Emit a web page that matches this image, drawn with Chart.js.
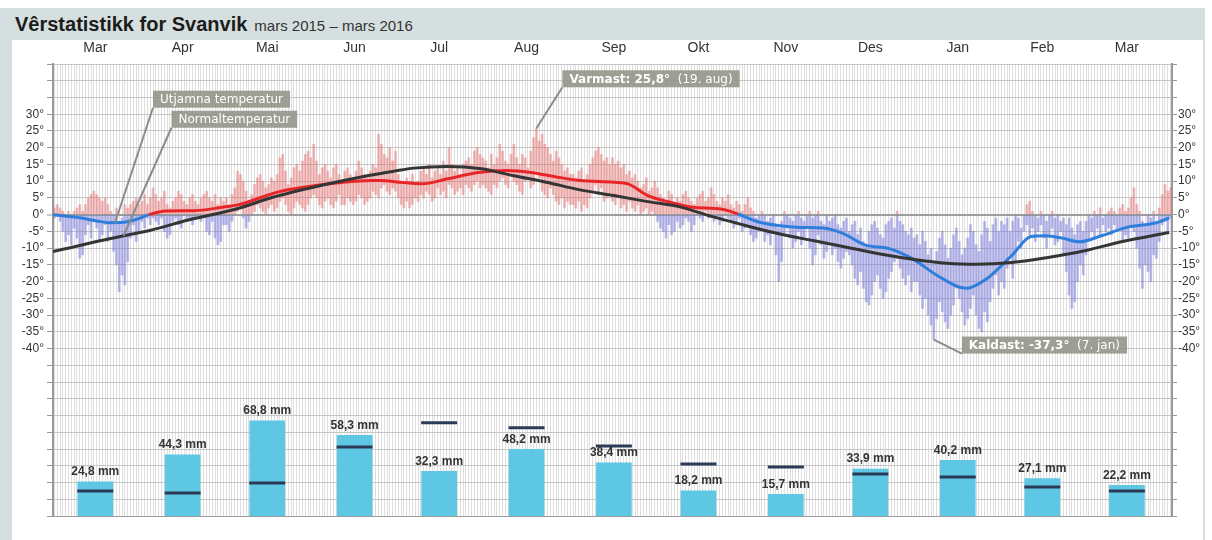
<!DOCTYPE html>
<html>
<head>
<meta charset="utf-8">
<title>Vêrstatistikk for Svanvik</title>
<script src="https://cdn.jsdelivr.net/npm/chart.js"></script>
<style>
    body { margin: 0; background: #fff; font-family: "Liberation Sans", Arial, sans-serif; }
    #frame { position: absolute; left: 0; top: 8px; width: 1205px; height: 532px; background: #d5dfdf; }
    #title { position: absolute; left: 15px; top: 8px; height: 32px; line-height: 32px; color: #1c1c1c; white-space: nowrap; }
    #title b { font-size: 20px; }
    #title span { font-size: 15px; margin-left: 7px; color: #333; }
    #panel { position: absolute; left: 12px; top: 40px; width: 1191px; height: 500px; background: #fff; }
    #chart-wrap { position: absolute; left: 0; top: 40px; width: 1212px; height: 500px; }
</style>
</head>
<body>
    <div id="frame"></div>
    <div id="title"><b>Vêrstatistikk for Svanvik</b><span>mars 2015 – mars 2016</span></div>
    <div id="panel"></div>
    <div id="chart-wrap"><canvas id="chart" width="1212" height="500"></canvas></div>

<script>
// Month labels on the top axis, and the day index (from 1. mars 2015) they sit on
const monthLabels = ['Mar', 'Apr', 'Mai', 'Jun', 'Jul', 'Aug', 'Sep', 'Okt', 'Nov', 'Des', 'Jan', 'Feb', 'Mar'];
const monthMid = [15, 46, 76, 107, 137, 168, 199, 229, 260, 290, 321, 351, 381];

// Monthly precipitation (mm) and normal precipitation
const precip = [24.8, 44.3, 68.8, 58.3, 32.3, 48.2, 38.4, 18.2, 15.7, 33.9, 40.2, 27.1, 22.2];
const precipNormal = [18.1, 16.7, 23.9, 50.0, 67.4, 63.8, 50.7, 37.7, 35.5, 30.4, 28.3, 21.0, 18.1];

// Daily max / min temperature, one array per month
const maxMar15 = [2, 3, 2, 1, 0, 1, -1, 1, 2, 3, 1, 3, 5, 6, 7, 6, 5, 4, 5, 3, 1, 0, 2, -2, -1, 3, 2, 3, 4, 5, 3];
const minMar15 = [-1, 0, -2, -5, -8, -6, -9, -4, -7, -13, -12, -6, -3, -7, -2, -4, -8, -6, -3, -8, -5, -11, -15, -23, -18, -21, -14, -7, -3, -8, -5];
const maxApr = [4, 6, 3, 5, 8, 6, 4, 5, 7, 3, 2, 4, 5, 7, 6, 4, 3, 5, 6, 4, 3, 5, 6, 7, 5, 4, 6, 3, 5, 4];
const minApr = [-2, -4, -1, -3, -1, -2, -3, -1, -5, -7, -6, -2, -1, -3, -4, 0, -2, -1, -3, -1, 0, -2, -1, -5, -6, -2, -7, -9, -8, -3];
const maxMay = [5, 3, 6, 8, 13, 12, 10, 7, 4, 6, 9, 11, 12, 10, 8, 9, 11, 10, 12, 17, 18, 13, 9, 11, 14, 15, 13, 16, 18, 19, 17];
const minMay = [-3, -5, -2, 0, 1, 2, -1, -4, -2, 0, 1, 3, 2, 1, 0, 2, 3, 1, 2, 4, 5, 3, 1, 0, 2, 4, 3, 2, 1, 3, 5];
const maxJun = [21, 16, 12, 14, 15, 13, 11, 14, 15, 12, 10, 13, 14, 12, 11, 13, 16, 14, 12, 11, 13, 15, 14, 24, 21, 18, 17, 20, 16, 19];
const minJun = [6, 5, 3, 2, 4, 5, 3, 2, 4, 6, 3, 3, 5, 4, 3, 4, 6, 5, 3, 4, 5, 7, 6, 5, 8, 9, 7, 6, 8, 7];
const maxJul = [12, 10, 9, 11, 10, 12, 9, 10, 13, 14, 12, 15, 11, 13, 14, 12, 16, 13, 20, 15, 13, 14, 12, 15, 16, 17, 15, 19, 20, 18, 17];
const minJul = [5, 3, 2, 4, 2, 3, 5, 4, 6, 5, 7, 6, 4, 5, 8, 6, 7, 5, 9, 8, 6, 7, 8, 6, 9, 8, 7, 9, 10, 8, 9];
const maxAug = [16, 14, 18, 15, 17, 21, 19, 16, 15, 18, 21, 17, 15, 18, 17, 14, 19, 23, 25.8, 22, 24, 21, 20, 18, 16, 19, 17, 15, 13, 14, 12];
const minAug = [8, 7, 6, 9, 8, 10, 11, 9, 8, 12, 10, 9, 7, 6, 10, 11, 8, 9, 13, 11, 7, 6, 5, 8, 6, 4, 3, 5, 2, 4, 3];
const maxSep = [12, 11, 13, 14, 10, 12, 15, 17, 19, 20, 18, 16, 17, 15, 17, 15, 16, 14, 15, 12, 13, 11, 12, 10, 8, 9, 11, 7, 8, 10];
const minSep = [3, 2, 4, 1, 3, 2, 5, 7, 9, 6, 8, 4, 5, 6, 4, 3, 5, 2, 3, 1, 4, 2, 1, 3, 0, 1, 2, 0, 1, 0];
const maxOct = [8, 6, 5, 4, 7, 6, 3, 5, 4, 6, 7, 5, 4, 3, 5, 6, 7, 4, 5, 8, 6, 4, 3, 5, 4, 6, 3, 2, 4, 3, 1];
const minOct = [-2, -4, -5, -7, -3, -6, -5, -2, -4, -3, -1, -2, -5, -3, 0, -1, -2, 1, -1, 0, -2, -1, -3, -2, 0, -1, -2, -4, -3, -1, -5];
const maxNov = [3, 5, 2, 1, -1, 0, 1, 0, -2, -1, 0, -3, -4, -2, 1, 0, -1, -2, 0, 1, -1, -2, 0, 1, -1, 0, 1, -2, -3, 0];
const minNov = [-4, -3, -6, -8, -7, -5, -4, -8, -6, -9, -5, -12, -20, -14, -6, -4, -7, -10, -8, -5, -9, -7, -4, -10, -15, -12, -6, -9, -13, -11];
const maxDec = [-2, -1, 0, -3, -4, -2, -1, -5, -3, -2, -6, -4, -8, -9, -5, -3, -2, -4, -6, -7, -3, -2, -1, -4, 1, -2, -3, -5, -6, -4, -7];
const minDec = [-8, -12, -10, -14, -16, -13, -11, -12, -15, -19, -21, -17, -22, -26, -27, -24, -20, -18, -22, -25, -23, -19, -17, -14, -13, -16, -19, -21, -18, -23, -20];
const maxJan = [-6, -9, -5, -8, -12, -10, -14, -11, -7, -5, -9, -13, -10, -6, -4, -8, -12, -10, -7, -3, -5, -9, -11, -6, -2, -4, -8, -3, -1, -5, -2];
const minJan = [-20, -24, -28, -25, -30, -33, -37.3, -31, -26, -29, -32, -34, -30, -27, -22, -25, -29, -33, -31, -28, -24, -30, -34, -35, -29, -32, -26, -22, -18, -24, -20];
const maxFeb = [-3, -1, -5, -2, 0, -1, -4, 0, 3, 4, 1, 0, -1, 1, 0, -2, 0, 1, -1, 0, -2, -1, -3, -1, -4, -6, -3, -2, -5];
const minFeb = [-22, -16, -12, -19, -14, -8, -10, -5, -3, -6, -4, -8, -5, -3, -7, -10, -6, -4, -9, -8, -5, -12, -17, -24, -28, -26, -20, -15, -18];
const maxMar16 = [-2, 0, -1, 1, 0, 2, -1, 0, 1, 2, 1, 0, 2, 3, 1, 2, 5, 8, 3, 1, -2, -3, 0, -1, 1, -2, 2, 6, 9, 7, 8];
const minMar16 = [-12, -8, -5, -7, -4, -6, -3, -5, -4, -6, -3, -5, -4, -8, -6, -7, -3, -5, -10, -16, -22, -15, -17, -20, -12, -13, -8, -3, -2, -5, -1];

// Smoothed temperature (utjamna) and normal temperature, read at day index
const smoothDays = [0, 5, 10, 15, 20, 25, 30, 34, 40, 50, 60, 66, 72, 80, 86, 92, 103, 113, 116, 123, 131, 140, 151, 161, 169, 179, 187, 199, 204, 211, 219, 227, 237, 243, 250, 258, 265, 273, 280, 288, 297, 305, 314, 324, 331, 340, 347, 352, 358, 364, 372, 381, 391, 396];
const smoothTemps = [0, -0.5, -1, -1.8, -2.4, -2.3, -1.3, 0, 1.1, 1.2, 2.2, 3, 4.6, 6.8, 7.8, 8.6, 9.7, 10.2, 10.2, 9.7, 9.2, 10.7, 12.6, 13.2, 12.7, 11.2, 10.2, 9.7, 9.2, 5.7, 3.7, 2.2, 1.7, 0.2, -2.1, -3.3, -3.8, -4, -5.5, -9, -10.2, -13.2, -18.3, -22, -19.3, -12.3, -6.5, -6.3, -7, -8.1, -6.3, -3.8, -2.5, -1];
const normalDays = [0, 25, 34, 48, 65, 78, 95, 112, 121, 128, 140, 152, 163, 175, 187, 199, 211, 222, 234, 246, 258, 270, 282, 294, 305, 317, 328, 340, 353, 366, 379, 396];
const normalTemps = [-11, -6.3, -4.8, -1.6, 1.7, 5.2, 8.7, 11.7, 13, 13.9, 14.4, 13.7, 11.7, 9.7, 7.4, 5.7, 3.9, 2.4, -0.6, -3.3, -5.8, -7.8, -9.8, -11.8, -13.3, -14.5, -14.8, -14.3, -12.8, -10.8, -8.1, -5.3];

// Labels pinned to the chart
const notes = [
    { day: 22, temp: -2.4, dx: 38, dy: -115, parts: [['Utjamna temperatur', false]] },
    { day: 25, temp: -6.3, dx: 48, dy: -108, parts: [['Normaltemperatur', false]] },
    { day: 171.5, temp: 25.8, dx: 26, dy: -41, parts: [['Varmast: 25,8°', true], ['  (19. aug)', false]] },
    { day: 312.5, temp: -37.3, dx: 28, dy: 14, parts: [['Kaldast: -37,3°', true], ['  (7. jan)', false]] }
];

const dayMax = [].concat(maxMar15, maxApr, maxMay, maxJun, maxJul, maxAug, maxSep, maxOct, maxNov, maxDec, maxJan, maxFeb, maxMar16);
const dayMin = [].concat(minMar15, minApr, minMay, minJun, minJul, minAug, minSep, minOct, minNov, minDec, minJan, minFeb, minMar16);

// Split each day's range into the part above and below zero
const warmBars = [];
const coldBars = [];
dayMax.forEach((hi, i) => {
    const lo = dayMin[i];
    if (hi > 0) warmBars.push({ x: i + 0.5, y: [Math.max(lo, 0), hi] });
    if (lo < 0) coldBars.push({ x: i + 0.5, y: [lo, Math.min(hi, 0)] });
});

const RED = '#e8262a';
const BLUE = '#2d7fdb';

// Draws mm labels over the precipitation bars and the note boxes
const overlay = {
    id: 'overlay',
    afterDatasetsDraw(chart) {
        const { ctx } = chart;
        const x = chart.scales.x, y = chart.scales.y, yP = chart.scales.yP;
        ctx.save();
        ctx.font = 'bold 12px "Liberation Sans", Arial';
        ctx.fillStyle = '#333';
        ctx.textAlign = 'center';
        ctx.textBaseline = 'bottom';
        precip.forEach((v, i) => {
            ctx.fillText(v.toFixed(1).replace('.', ',') + ' mm', x.getPixelForValue(monthMid[i]), yP.getPixelForValue(v) - 4);
        });

        notes.forEach(n => {
            const ax = x.getPixelForValue(n.day);
            const ay = y.getPixelForValue(n.temp);
            const left = ax + n.dx;
            const bottom = ay + n.dy;
            const h = 17;
            let w = 14;
            n.parts.forEach(p => {
                ctx.font = (p[1] ? 'bold ' : '') + '12px "DejaVu Sans"';
                w += ctx.measureText(p[0]).width;
            });
            // leader line
            ctx.strokeStyle = '#8c8c8c';
            ctx.lineWidth = 2;
            ctx.beginPath();
            ctx.moveTo(ax, ay);
            ctx.lineTo(left, bottom);
            ctx.stroke();
            // box
            ctx.fillStyle = 'rgba(150, 149, 137, 0.9)';
            ctx.fillRect(left, bottom - h, w, h);
            ctx.fillStyle = '#fff';
            ctx.textAlign = 'left';
            ctx.textBaseline = 'middle';
            let tx = left + 7;
            n.parts.forEach(p => {
                ctx.font = (p[1] ? 'bold ' : '') + '12px "DejaVu Sans"';
                ctx.fillText(p[0], tx, bottom - h / 2 + 1);
                tx += ctx.measureText(p[0]).width;
            });
        });
        ctx.restore();
    }
};

const tempLabel = v => (v <= 30 && v >= -40) ? v + '°' : '';
const tickFont = { size: 12, family: '"Liberation Sans", Arial' };

new Chart(document.getElementById('chart'), {
    type: 'bar',
    data: {
        datasets: [
            {
                type: 'line',
                data: normalDays.map((d, i) => ({ x: d, y: normalTemps[i] })),
                borderColor: '#353535',
                borderWidth: 3,
                pointRadius: 0,
                cubicInterpolationMode: 'monotone',
                yAxisID: 'y',
                order: 0
            },
            {
                type: 'line',
                data: smoothDays.map((d, i) => ({ x: d, y: smoothTemps[i] })),
                borderColor: RED,
                borderWidth: 3,
                pointRadius: 0,
                cubicInterpolationMode: 'monotone',
                segment: {
                    borderColor: c => (c.p0.parsed.y + c.p1.parsed.y) / 2 < 0 ? BLUE : RED
                },
                yAxisID: 'y',
                order: 1
            },
            {
                type: 'line',
                data: precipNormal.map((v, i) => ({ x: monthMid[i], y: v })),
                showLine: false,
                pointStyle: 'line',
                pointRadius: 18,
                pointBorderWidth: 3,
                pointBorderColor: '#2b3a57',
                borderColor: '#2b3a57',
                yAxisID: 'yP',
                order: 2
            },
            {
                data: precip.map((v, i) => ({ x: monthMid[i], y: v })),
                backgroundColor: '#5ec7e3',
                barThickness: 35,
                grouped: false,
                yAxisID: 'yP',
                order: 3
            },
            {
                data: warmBars,
                backgroundColor: 'rgba(228, 100, 100, 0.45)',
                barThickness: 2,
                grouped: false,
                yAxisID: 'y',
                order: 4
            },
            {
                data: coldBars,
                backgroundColor: 'rgba(115, 115, 215, 0.5)',
                barThickness: 2,
                grouped: false,
                yAxisID: 'y',
                order: 5
            }
        ]
    },
    options: {
        responsive: false,
        animation: false,
        devicePixelRatio: 1,
        events: [],
        layout: { padding: { left: 0, right: 0, top: 0, bottom: 24 } },
        plugins: {
            legend: { display: false },
            tooltip: { enabled: false }
        },
        scales: {
            x: {
                type: 'linear',
                position: 'top',
                min: 0,
                max: 397,
                offset: false,
                grid: { color: '#dedede', drawTicks: false },
                border: { display: false },
                ticks: {
                    stepSize: 1,
                    autoSkip: false,
                    maxRotation: 0,
                    padding: 7,
                    color: '#333',
                    font: { size: 14, family: '"Liberation Sans", Arial' },
                    callback: v => {
                        const k = monthMid.indexOf(v);
                        return k < 0 ? '' : monthLabels[k];
                    }
                },
                afterFit: s => { s.height = 24; }
            },
            y: {
                position: 'left',
                min: -90,
                max: 45,
                grid: {
                    color: c => c.tick.value === 0 ? '#9c9c9c' : (c.tick.value === -90 ? '#9c9c9c' : '#c6c6c6'),
                    lineWidth: c => c.tick.value === 0 ? 2 : 1,
                    tickLength: 6,
                    tickColor: '#999',
                    tickWidth: 1
                },
                border: { color: '#999', width: 2 },
                ticks: { stepSize: 5, autoSkip: false, padding: 3, color: '#333', font: tickFont, callback: tempLabel },
                afterFit: s => { s.width = 53; }
            },
            y2: {
                position: 'right',
                min: -90,
                max: 45,
                grid: { drawOnChartArea: false, tickLength: 5, tickColor: '#999', tickWidth: 1 },
                border: { color: '#999', width: 2 },
                ticks: { stepSize: 5, autoSkip: false, padding: 1, color: '#333', font: tickFont, callback: tempLabel },
                afterFit: s => { s.width = 40; }
            },
            yP: {
                display: false,
                min: 0,
                max: 327
            }
        }
    },
    plugins: [overlay]
});
</script>
</body>
</html>
